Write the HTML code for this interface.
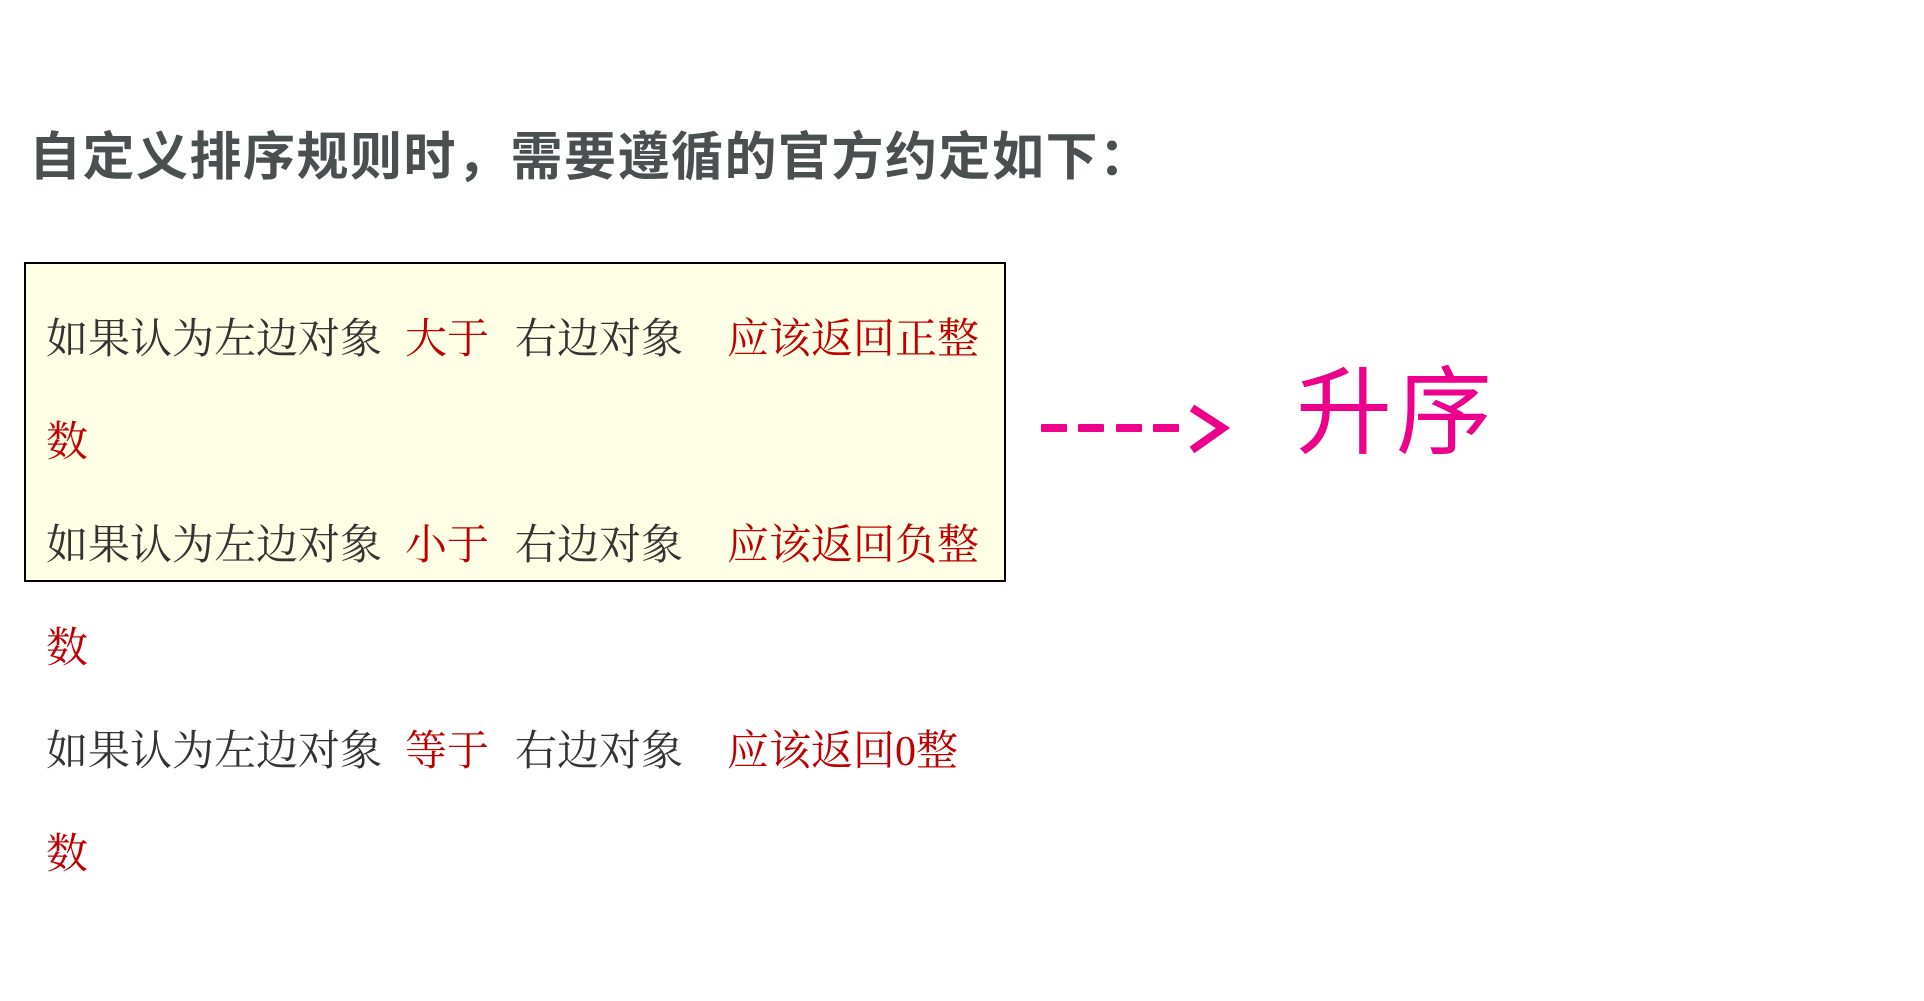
<!DOCTYPE html>
<html><head><meta charset="utf-8"><style>
html,body{margin:0;padding:0;background:#fff;width:1924px;height:1001px;overflow:hidden;position:relative;}
.t{position:absolute;white-space:nowrap;font-family:"Liberation Serif","Noto Serif CJK SC",serif;font-size:42px;line-height:50px;color:#333;}
.r{color:#c00000;}
.title{position:absolute;left:29px;top:128px;font-family:"Liberation Sans","Noto Sans CJK SC",sans-serif;font-weight:bold;font-size:52px;line-height:60px;color:#4a5050;white-space:nowrap;letter-spacing:1.5px;}
.box{position:absolute;left:24px;top:262px;width:978px;height:316px;border:2px solid #000;background:#ffffe6;}
.d{position:absolute;top:424px;width:26px;height:8px;background:#ec008c;border-radius:1px;}
.sx{position:absolute;left:1296px;top:345px;font-family:"Noto Sans CJK SC",sans-serif;font-size:96px;line-height:120px;color:#ec008c;letter-spacing:4px;}
</style></head><body>
<div class="title">自定义排序规则时，需要遵循的官方约定如下：</div>
<div class="box"></div>
<div class="t" style="left:46px;top:315px">如果认为左边对象</div>
<div class="t r" style="left:405px;top:315px">大于</div>
<div class="t" style="left:515px;top:315px">右边对象</div>
<div class="t r" style="left:727px;top:315px">应该返回正整</div>
<div class="t r" style="left:46px;top:418px">数</div>
<div class="t" style="left:46px;top:521px">如果认为左边对象</div>
<div class="t r" style="left:405px;top:521px">小于</div>
<div class="t" style="left:515px;top:521px">右边对象</div>
<div class="t r" style="left:727px;top:521px">应该返回负整</div>
<div class="t r" style="left:46px;top:624px">数</div>
<div class="t" style="left:46px;top:727px">如果认为左边对象</div>
<div class="t r" style="left:405px;top:727px">等于</div>
<div class="t" style="left:515px;top:727px">右边对象</div>
<div class="t r" style="left:727px;top:727px">应该返回0整</div>
<div class="t r" style="left:46px;top:830px">数</div>
<div class="d" style="left:1041px"></div>
<div class="d" style="left:1078px"></div>
<div class="d" style="left:1116px"></div>
<div class="d" style="left:1153px"></div>
<svg style="position:absolute;left:1185px;top:400px" width="50" height="60"><polyline points="7,8 38,28 7,50" fill="none" stroke="#ec008c" stroke-width="8" stroke-linejoin="miter"/></svg>
<div class="sx">升序</div>
</body></html>
